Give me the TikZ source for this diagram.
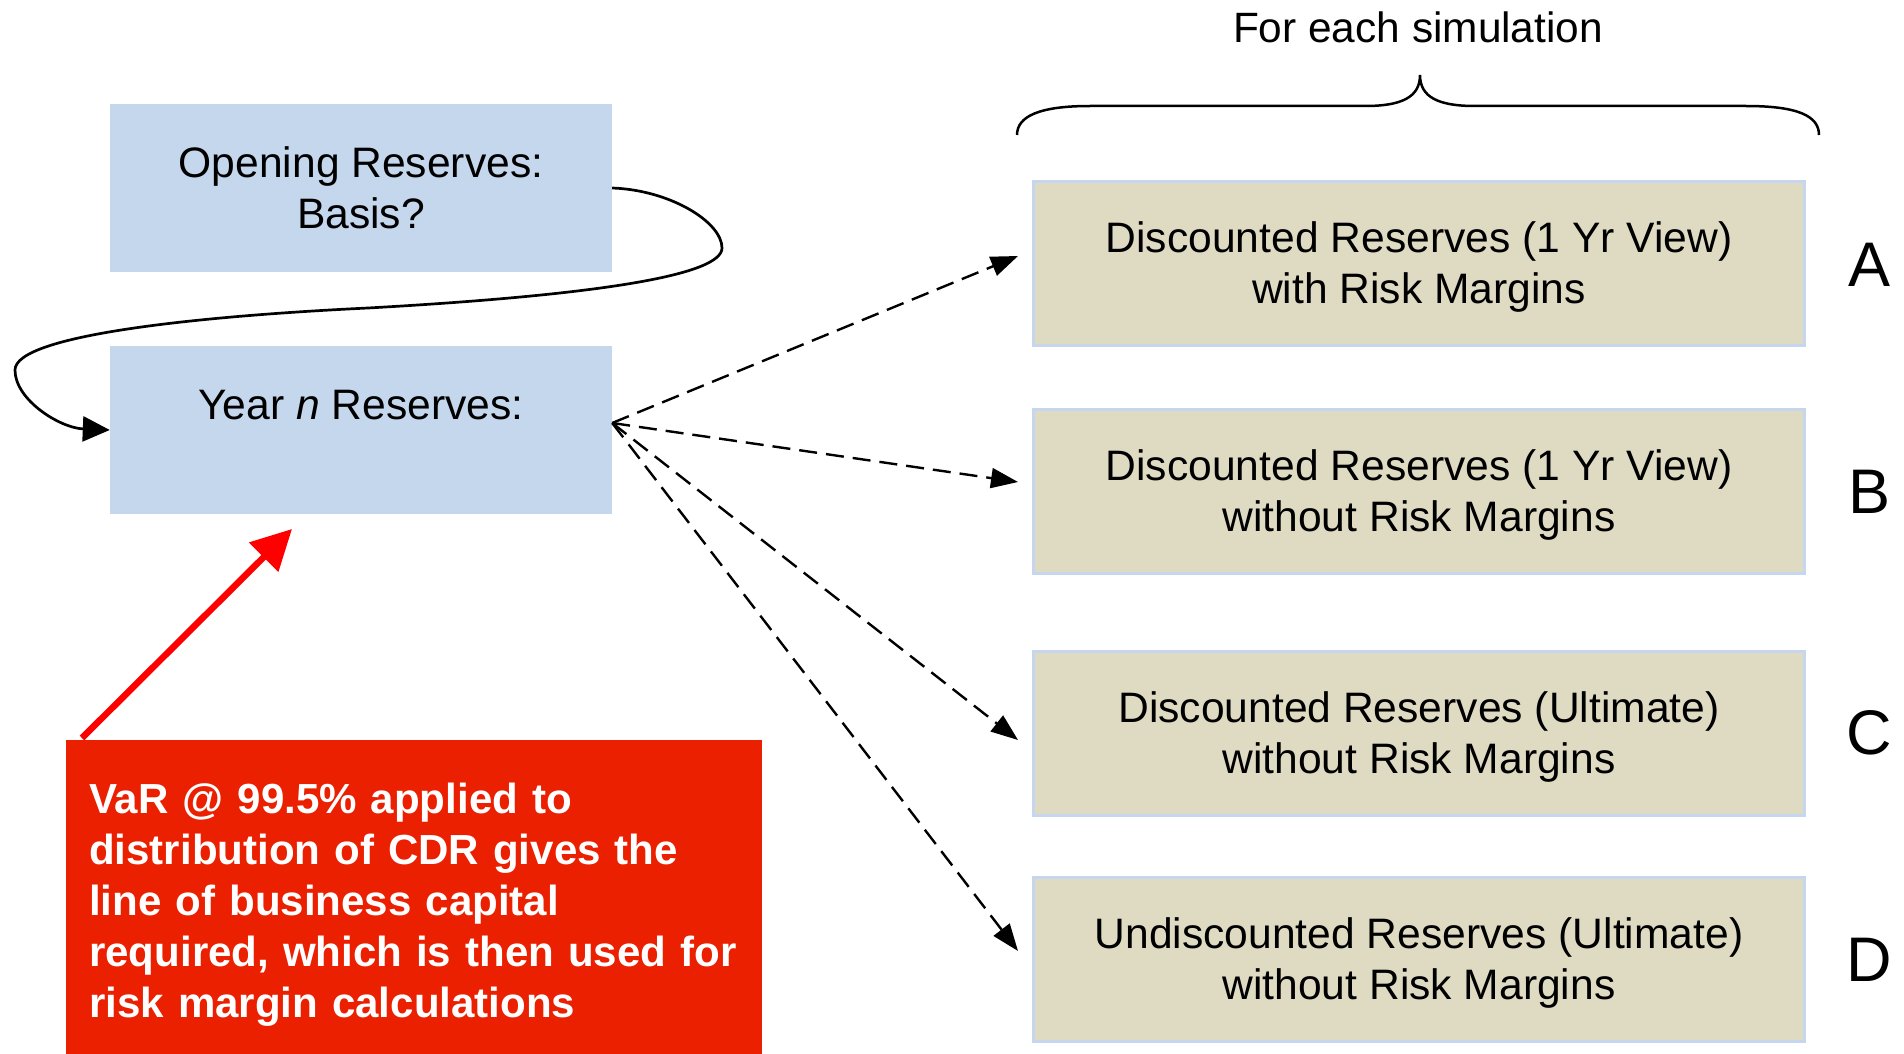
\documentclass[tikz,border=0pt]{standalone}
\usepackage{fontspec}
\setmainfont{Liberation Sans}
\usetikzlibrary{arrows.meta,calc}
\definecolor{boxblue}{HTML}{C5D7EC}
\definecolor{boxtan}{HTML}{DFDBC3}
\definecolor{tanedge}{HTML}{C6D6EE}
\definecolor{notered}{HTML}{EA2000}
\definecolor{arrowred}{HTML}{FF0000}
% taller first line, nudges two-line box text slightly downwards
\newcommand{\firstlinestrut}{\rule{0pt}{38.5pt}}

\begin{document}
\begin{tikzpicture}[x=1pt,y=-1pt,
  boxtext/.style={font=\fontsize{42.6}{51}\selectfont, align=center},
  bluebox/.style={boxtext, fill=boxblue, draw=none, minimum width=502pt,
    minimum height=168pt, inner sep=0pt},
  tanbox/.style={boxtext, fill=boxtan, draw=tanedge, line width=3pt,
    minimum width=771pt, minimum height=164pt, inner sep=0pt},
  tag/.style={font=\fontsize{63}{75}\selectfont, inner sep=0pt},
  fanarrow/.style={line width=2.4pt, dash pattern=on 18pt off 9pt,
    -{Triangle[length=27pt,width=20pt]}},
  looparrow/.style={line width=2.7pt, -{Triangle[length=27pt,width=25pt]}},
  notearrow/.style={arrowred, line width=6.5pt, -{Triangle[length=40pt,width=40pt]}},
  bracestroke/.style={line width=2.5pt}
]
\useasboundingbox (0,0) rectangle (1904,1054);

% left column: reserve states
\node[bluebox] (open) at (361,188) {Opening Reserves:\\Basis?};
\node[bluebox, text height=31pt, text depth=53pt] (year) at (361,430)
  {Year \textit{n} Reserves:};

% right column: valuation bases
\node[tanbox] (A) at (1419,263.5) {\firstlinestrut Discounted Reserves (1 Yr View)\\with Risk Margins};
\node[tanbox] (B) at (1419,491) {\firstlinestrut Discounted Reserves (1 Yr View)\\without Risk Margins};
\node[tanbox] (C) at (1419,733) {\firstlinestrut Discounted Reserves (Ultimate)\\without Risk Margins};
\node[tanbox] (D) at (1419,959.5) {\firstlinestrut Undiscounted Reserves (Ultimate)\\without Risk Margins};

\node[tag] (tagA) at (1869,265) {A};
\node[tag] (tagB) at (1869,492) {B};
\node[tag] (tagC) at (1869,733) {C};
\node[tag] (tagD) at (1869,960) {D};

% heading and brace over the right column
\node[boxtext, font=\fontsize{42.4}{51}\selectfont] (head) at (1418,27) {For each simulation};
\draw[bracestroke] (1017,135) .. controls (1017,116) and (1040,106) .. (1090,106)
  -- (1365,106) .. controls (1402,106) and (1420,97) .. (1420,75)
  .. controls (1420,97) and (1438,106) .. (1475,106)
  -- (1746,106) .. controls (1798,106) and (1819,116) .. (1819,135);

% roll-forward loop from opening to year n
\draw[looparrow] (open.east) .. controls (670,190) and (722,222) .. (722,248)
  .. controls (722,275) and (600,295) .. (368,308)
  .. controls (200,316) and (15,335) .. (15,370)
  .. controls (15,400) and (60,428) .. (year.west);

% fan-out to the four bases
\coordinate (fan) at ($(year.east)+(0,-7)$);
\coordinate (inA) at (1018,256);
\coordinate (inB) at (1018,482);
\coordinate (inC) at (1018,740);
\coordinate (inD) at (1018,951);
\draw[fanarrow] (fan) -- (inA);
\draw[fanarrow] (fan) -- (inB);
\draw[fanarrow] (fan) -- (inC);
\draw[fanarrow] (fan) -- (inD);

% capital note
\node[fill=notered, inner sep=0pt, minimum width=696pt, minimum height=314pt,
  anchor=north west] (var) at (66,740) {};
\node[anchor=base west, inner sep=0pt, text width=672pt, align=left, text=white,
  font=\bfseries\fontsize{42.05}{51}\selectfont] (vartext) at (89,813)
  {VaR @ 99.5\% applied to\\distribution of CDR gives the\\line of business capital\\required, which is then used for\\risk margin calculations};
\coordinate (vartip) at (292,529);
\draw[notearrow] ($(var.north west)+(16,-2)$) -- (vartip);
\end{tikzpicture}
\end{document}
